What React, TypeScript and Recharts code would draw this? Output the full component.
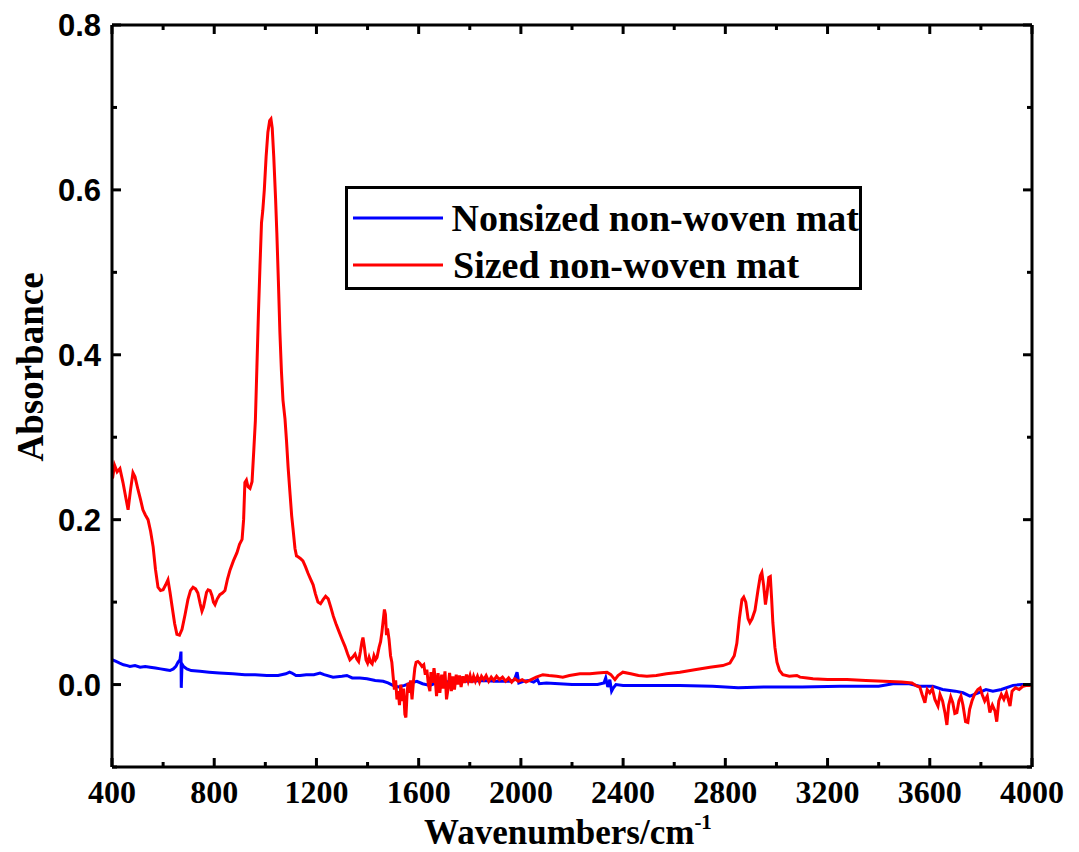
import React from "react";
import {
  LineChart,
  Line,
  XAxis,
  YAxis,
  Legend,
  Label,
} from "recharts";

// wavenumbers (cm-1) and absorbance
const sizedX = [
  402, 410, 420, 431, 443, 455, 463, 472, 482, 490, 502, 512, 521, 530, 541, 551, 561, 570, 580, 590,
  600, 610, 619, 627, 635, 645, 654, 664, 674, 686, 697, 707, 717, 727, 736, 745, 752, 758, 764, 770,
  776, 784, 791, 797, 803, 812, 822, 832, 842, 852, 862, 875, 889, 899, 909, 915, 920, 926, 932, 940,
  948, 955, 961, 967, 973, 979, 985, 990, 996, 1003, 1010, 1017, 1022, 1027, 1033, 1040, 1045, 1051, 1057, 1063,
  1069, 1077, 1083, 1089, 1097, 1103, 1108, 1116, 1122, 1128, 1137, 1147, 1157, 1167, 1177, 1187, 1196, 1206, 1216, 1226,
  1236, 1246, 1256, 1266, 1276, 1286, 1300, 1312, 1322, 1331, 1341, 1351, 1358, 1365, 1372, 1378, 1382, 1388, 1394, 1400,
  1406, 1412, 1418, 1425, 1431, 1437, 1445, 1451, 1456, 1462, 1466, 1470, 1474, 1478, 1484, 1490, 1495, 1500, 1505, 1510,
  1515, 1520, 1525, 1530, 1536, 1541, 1546, 1550, 1554, 1558, 1563, 1568, 1574, 1580, 1585, 1590, 1597, 1604, 1613, 1620,
  1626, 1632, 1638, 1644, 1648, 1654, 1660, 1664, 1670, 1676, 1683, 1690, 1696, 1703, 1709, 1715, 1721, 1728, 1734, 1740,
  1747, 1753, 1760, 1766, 1773, 1780, 1787, 1794, 1801, 1808, 1815, 1822, 1830, 1838, 1846, 1855, 1864, 1874, 1884, 1894,
  1905, 1916, 1928, 1940, 1952, 1964, 1976, 1990, 2005, 2020, 2040, 2060, 2086, 2110, 2140, 2164, 2190, 2231, 2270, 2300,
  2337, 2352, 2368, 2380, 2399, 2430, 2460, 2493, 2530, 2570, 2622, 2680, 2740, 2790, 2818, 2835, 2845, 2855, 2865, 2872,
  2880, 2889, 2896, 2905, 2916, 2928, 2937, 2943, 2950, 2957, 2963, 2970, 2976, 2981, 2986, 2994, 3002, 3012, 3025, 3050,
  3080, 3092, 3120, 3143, 3200, 3276, 3350, 3420, 3490, 3530, 3550, 3561, 3570, 3581, 3590, 3600, 3610, 3620, 3632, 3640,
  3650, 3660, 3667, 3674, 3682, 3690, 3698, 3706, 3714, 3722, 3730, 3740, 3749, 3756, 3765, 3775, 3788, 3797, 3805, 3815,
  3825, 3835, 3845, 3855, 3862, 3870, 3880, 3890, 3900, 3914, 3922, 3935, 3950, 3965, 3980, 3995,
];
const sizedY = [
  0.25, 0.266, 0.258, 0.262, 0.245, 0.225, 0.212, 0.235, 0.257, 0.252, 0.236, 0.224, 0.212, 0.206, 0.2, 0.186, 0.167, 0.14, 0.118, 0.114,
  0.115, 0.121, 0.127, 0.112, 0.095, 0.074, 0.061, 0.06, 0.067, 0.085, 0.103, 0.114, 0.118, 0.116, 0.111, 0.098, 0.089, 0.094, 0.103, 0.112,
  0.115, 0.114, 0.108, 0.1, 0.097, 0.104, 0.109, 0.111, 0.114, 0.128, 0.139, 0.15, 0.16, 0.17, 0.176, 0.2, 0.245, 0.248, 0.24, 0.238,
  0.246, 0.285, 0.32, 0.385, 0.45, 0.507, 0.56, 0.575, 0.6, 0.64, 0.67, 0.684, 0.686, 0.675, 0.64, 0.59, 0.548, 0.49, 0.427, 0.38,
  0.345, 0.322, 0.295, 0.264, 0.23, 0.205, 0.19, 0.165, 0.156, 0.155, 0.153, 0.15, 0.143, 0.135, 0.128, 0.121, 0.11, 0.1, 0.098, 0.103,
  0.107, 0.104, 0.094, 0.083, 0.074, 0.066, 0.055, 0.046, 0.037, 0.03, 0.033, 0.037, 0.031, 0.028, 0.04, 0.052, 0.057, 0.045, 0.03, 0.026,
  0.033, 0.027, 0.025, 0.035, 0.03, 0.033, 0.045, 0.052, 0.063, 0.08, 0.091, 0.085, 0.06, 0.068, 0.055, 0.035, 0.027, 0.01, -0.006, 0.005,
  -0.018, -0.008, -0.025, 0.0, -0.02, -0.005, -0.036, -0.04, -0.015, 0.002, -0.01, 0.005, -0.018, 0.005, 0.02, 0.027, 0.028, 0.026, 0.022, 0.024,
  0.012, 0.018, 0.0, -0.008, 0.015, 0.002, 0.02, 0.01, -0.014, 0.014, -0.01, 0.012, -0.005, 0.016, -0.018, -0.005, 0.014, -0.008, 0.01, -0.006,
  0.012, 0.0, 0.011, -0.003, 0.01, 0.002, 0.012, 0.004, 0.011, 0.002, 0.01, 0.004, 0.01, 0.003, 0.01, 0.006, 0.011, 0.004, 0.009, 0.005,
  0.01, 0.006, 0.009, 0.004, 0.008, 0.003, 0.007, 0.004, 0.006, 0.003, 0.006, 0.009, 0.012, 0.011, 0.01, 0.009, 0.011, 0.013, 0.013, 0.014,
  0.015, 0.012, 0.006, 0.011, 0.015, 0.013, 0.011, 0.01, 0.011, 0.013, 0.015, 0.018, 0.021, 0.023, 0.026, 0.035, 0.05, 0.08, 0.103, 0.106,
  0.1, 0.08, 0.075, 0.08, 0.09, 0.115, 0.132, 0.136, 0.12, 0.097, 0.11, 0.13, 0.131, 0.105, 0.075, 0.045, 0.027, 0.017, 0.012, 0.01,
  0.011, 0.009, 0.008, 0.007, 0.006, 0.006, 0.005, 0.004, 0.003, 0.002, -0.002, -0.003, -0.012, -0.022, -0.006, -0.01, -0.005, -0.018, -0.026, -0.012,
  -0.02, -0.035, -0.049, -0.025, -0.015, -0.022, -0.035, -0.034, -0.02, -0.014, -0.025, -0.045, -0.046, -0.03, -0.02, -0.012, -0.006, -0.004, -0.012, -0.02,
  -0.014, -0.034, -0.025, -0.032, -0.045, -0.02, -0.012, -0.018, -0.01, -0.026, -0.008, -0.004, -0.006, -0.002, -0.001, -0.001,
];

const nonsizedX = [
  402, 416, 430, 445, 460, 470, 490, 510, 530, 549, 570, 590, 610, 627, 640, 650, 658, 666, 670, 671,
  674, 680, 693, 710, 744, 780, 820, 873, 920, 960, 1006, 1050, 1080, 1095, 1104, 1120, 1136, 1160, 1190, 1214,
  1230, 1265, 1300, 1319, 1340, 1370, 1398, 1430, 1461, 1480, 1499, 1520, 1545, 1570, 1593, 1615, 1644, 1670, 1700, 1740,
  1800, 1850, 1900, 1918, 1960, 1975, 1985, 1992, 2010, 2030, 2050, 2065, 2072, 2100, 2150, 2200, 2260, 2300, 2325, 2332,
  2340, 2348, 2355, 2362, 2372, 2400, 2500, 2622, 2750, 2850, 2950, 3100, 3250, 3400, 3456, 3520, 3560, 3612, 3650, 3700,
  3730, 3757, 3790, 3820, 3847, 3880, 3926, 3960, 3998,
];
const nonsizedY = [
  0.03, 0.028, 0.026, 0.024, 0.023, 0.022, 0.023, 0.021, 0.022, 0.021, 0.02, 0.019, 0.018, 0.017, 0.019, 0.022, 0.027, 0.03, 0.04, -0.004,
  0.025, 0.022, 0.019, 0.017, 0.016, 0.015, 0.014, 0.013, 0.012, 0.012, 0.011, 0.011, 0.013, 0.015, 0.014, 0.011, 0.011, 0.012, 0.012, 0.014,
  0.012, 0.009, 0.01, 0.011, 0.008, 0.008, 0.007, 0.005, 0.004, 0.002, -0.001, -0.003, -0.001, 0.002, 0.004, 0.001, -0.001, 0.002, 0.003, 0.004,
  0.004, 0.005, 0.004, 0.004, 0.004, 0.006, 0.015, 0.002, 0.004, 0.005, 0.003, 0.006, 0.001, 0.002, 0.001, 0.0, 0.0, 0.0, 0.002, 0.008,
  -0.003, 0.006, -0.008, -0.004, 0.0, -0.001, -0.001, -0.001, -0.002, -0.004, -0.003, -0.003, -0.002, -0.002, 0.001, 0.001, -0.002, -0.002, -0.006, -0.008,
  -0.01, -0.014, -0.01, -0.006, -0.008, -0.006, -0.001, 0.0, 0.0,
];

const xTicks = [400, 600, 800, 1000, 1200, 1400, 1600, 1800, 2000, 2200, 2400, 2600, 2800, 3000, 3200, 3400, 3600, 3800, 4000];
const yTicks = [-0.1, 0, 0.1, 0.2, 0.3, 0.4, 0.5, 0.6, 0.7, 0.8];

const toPoints = (xs: number[], ys: number[]) => xs.map((x, i) => ({ x, y: ys[i] }));

const sized = toPoints(sizedX, sizedY);
const nonsized = toPoints(nonsizedX, nonsizedY);

const isMajorX = (v: number) => (v - 400) % 400 === 0;
const isMajorY = (v: number) => Math.round(v * 10) % 2 === 0;

const AXIS = { stroke: "#000", strokeWidth: 3 };
const MAJOR = 9;
const MINOR = 5;

const serif = "Liberation Serif, Times New Roman, serif";
const sans = "Liberation Sans, Arial, sans-serif";

function LeftTick({ x, y, payload }: any) {
  const major = isMajorY(payload.value);
  return (
    <g>
      <line x1={x} x2={x + (major ? MAJOR : MINOR)} y1={y} y2={y} stroke="#000" strokeWidth={3} />
      {major && (
        <text x={x - 11} y={y} dy="0.36em" textAnchor="end" fontFamily={sans} fontWeight="bold" fontSize={31} fill="#000">
          {payload.value.toFixed(1)}
        </text>
      )}
    </g>
  );
}

function RightTick({ x, y, payload }: any) {
  const major = isMajorY(payload.value);
  return <line x1={x} x2={x - (major ? MAJOR : MINOR)} y1={y} y2={y} stroke="#000" strokeWidth={3} />;
}

function BottomTick({ x, y, payload }: any) {
  const major = isMajorX(payload.value);
  return (
    <g>
      <line x1={x} x2={x} y1={y} y2={y - (major ? MAJOR : MINOR)} stroke="#000" strokeWidth={3} />
      {major && (
        <text x={x} y={y + 36} textAnchor="middle" fontFamily={serif} fontWeight="bold" fontSize={32} fill="#000">
          {payload.value}
        </text>
      )}
    </g>
  );
}

function TopTick({ x, y, payload }: any) {
  const major = isMajorX(payload.value);
  return <line x1={x} x2={x} y1={y} y2={y + (major ? MAJOR : MINOR)} stroke="#000" strokeWidth={3} />;
}

function XTitle() {
  return (
    <text x={568} y={844} textAnchor="middle" fontFamily={serif} fontWeight="bold" fontSize={35} fill="#000">
      Wavenumbers/cm
      <tspan fontSize={21} dy={-15}>-1</tspan>
    </text>
  );
}

function YTitle() {
  return (
    <text
      x={30}
      y={367}
      transform="rotate(-90, 30, 367)"
      textAnchor="middle"
      dy="0.35em"
      fontFamily={serif}
      fontWeight="bold"
      fontSize={37}
      fill="#000"
    >
      Absorbance
    </text>
  );
}

const legendItems = [
  { name: "Nonsized non-woven mat", color: "#0000ff" },
  { name: "Sized non-woven mat", color: "#ff0000" },
];

function LegendBox() {
  return (
    <div
      style={{
        boxSizing: "border-box",
        width: 517,
        height: 104,
        border: "3px solid #000",
        background: "#fff",
        paddingTop: 5,
      }}
    >
      {legendItems.map((it) => (
        <div key={it.name} style={{ display: "flex", alignItems: "center", height: 47 }}>
          <svg width={96} height={10} style={{ marginLeft: 3 }}>
            <line x1={2} x2={92} y1={5} y2={5} stroke={it.color} strokeWidth={3} />
          </svg>
          <span
            style={{
              marginLeft: 6,
              fontFamily: serif,
              fontWeight: "bold",
              fontSize: 38,
              lineHeight: "40px",
              color: "#000",
              whiteSpace: "nowrap",
            }}
          >
            {it.name}
          </span>
        </div>
      ))}
    </div>
  );
}

export default function App() {
  return (
    <div style={{ position: "absolute", left: 0, top: 0, width: 1079, height: 852, background: "#fff" }}>
      <LineChart width={1079} height={852} margin={{ top: 24, right: 46, bottom: 84, left: 111 }}>
        <XAxis
          xAxisId="b"
          dataKey="x"
          type="number"
          domain={[400, 4000]}
          ticks={xTicks}
          interval={0}
          height={1}
          tickSize={0}
          tickMargin={0}
          axisLine={AXIS}
          tickLine={false}
          tick={<BottomTick />}
          allowDataOverflow
        >
          <Label content={<XTitle />} />
        </XAxis>
        <XAxis
          xAxisId="t"
          orientation="top"
          dataKey="x"
          type="number"
          domain={[400, 4000]}
          ticks={xTicks}
          interval={0}
          height={1}
          tickSize={0}
          tickMargin={0}
          axisLine={AXIS}
          tickLine={false}
          tick={<TopTick />}
          allowDataOverflow
        />
        <YAxis
          yAxisId="l"
          type="number"
          domain={[-0.1, 0.8]}
          ticks={yTicks}
          interval={0}
          width={1}
          tickSize={0}
          tickMargin={0}
          axisLine={AXIS}
          tickLine={false}
          tick={<LeftTick />}
          allowDataOverflow
        >
          <Label content={<YTitle />} />
        </YAxis>
        <YAxis
          yAxisId="r"
          orientation="right"
          type="number"
          domain={[-0.1, 0.8]}
          ticks={yTicks}
          interval={0}
          width={1}
          tickSize={0}
          tickMargin={0}
          axisLine={AXIS}
          tickLine={false}
          tick={<RightTick />}
          allowDataOverflow
        />
        <Legend
          layout="horizontal"
          verticalAlign="middle"
          align="center"
          content={<LegendBox />}
          wrapperStyle={{ position: "absolute", left: 345, top: 186, width: 517, height: 104 }}
        />
        <Line
          xAxisId="b"
          yAxisId="l"
          data={nonsized}
          dataKey="y"
          name="Nonsized non-woven mat"
          stroke="#0000ff"
          strokeWidth={3}
          dot={false}
          type="linear"
          isAnimationActive={false}
        />
        <Line
          xAxisId="t"
          yAxisId="r"
          data={sized}
          dataKey="y"
          name="Sized non-woven mat"
          stroke="#ff0000"
          strokeWidth={3}
          dot={false}
          type="linear"
          isAnimationActive={false}
        />
      </LineChart>
    </div>
  );
}
